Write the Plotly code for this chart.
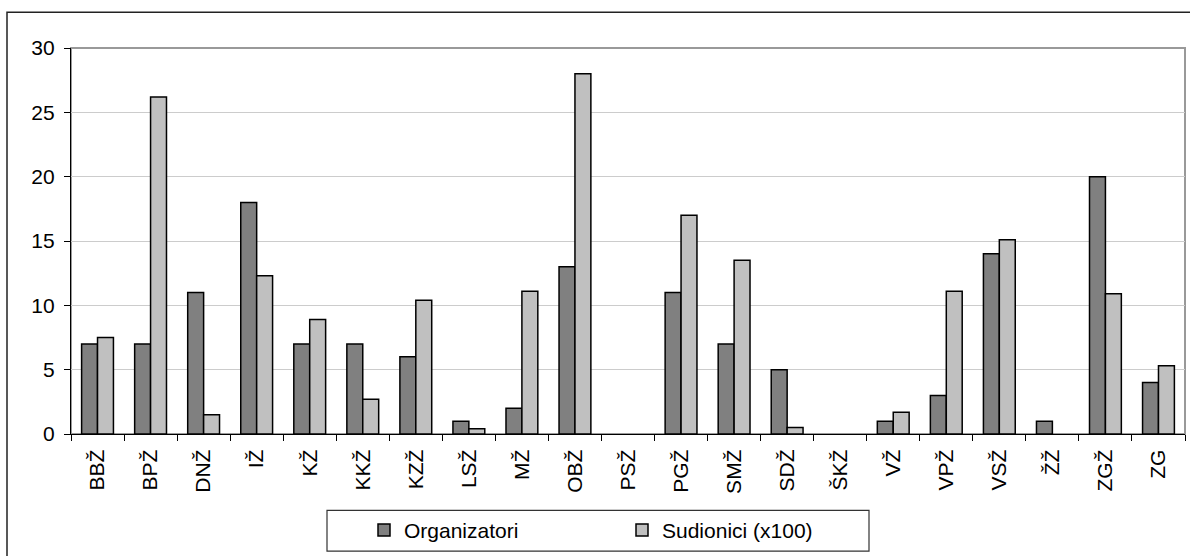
import plotly.graph_objects as go

categories = ["BBŽ", "BPŽ", "DNŽ", "IŽ", "KŽ", "KKŽ", "KZŽ", "LSŽ", "MŽ", "OBŽ", "PSŽ",
              "PGŽ", "SMŽ", "SDŽ", "ŠKŽ", "VŽ", "VPŽ", "VSŽ", "ŽŽ", "ZGŽ", "ZG"]
organizatori = [7, 7, 11, 18, 7, 7, 6, 1, 2, 13, 0, 11, 7, 5, 0, 1, 3, 14, 1, 20, 4]
sudionici = [7.5, 26.2, 1.5, 12.3, 8.9, 2.7, 10.4, 0.4, 11.1, 28, 0, 17, 13.5, 0.5, 0, 1.7,
             11.1, 15.1, 0, 10.9, 5.3]
y_ticks = [0, 5, 10, 15, 20, 25, 30]

W, H = 1190, 556
L, R, T, B = 71, 5, 48, 119
pw, ph = W - L - R, H - T - B


def px_x(p):
    return (p - L) / pw


def px_y(p):
    return (H - B - p) / ph


def no_zero(vals):
    # zero-height bars are not drawn in the reference
    return [v if v else None for v in vals]


FONT = "Liberation Sans, Arial, sans-serif"
FS = 21

fig = go.Figure()
fig.add_trace(go.Bar(x=categories, y=no_zero(organizatori), name="Organizatori",
                     marker=dict(color="#808080", line=dict(color="#000000", width=1.5))))
fig.add_trace(go.Bar(x=categories, y=no_zero(sudionici), name="Sudionici (x100)",
                     marker=dict(color="#C0C0C0", line=dict(color="#000000", width=1.5))))

fig.update_layout(
    width=W, height=H,
    margin=dict(l=L, r=R, t=T, b=B, pad=0),
    paper_bgcolor="white", plot_bgcolor="white",
    barmode="group", bargap=0.4, bargroupgap=0,
    font=dict(family=FONT, size=FS, color="#000000"),
    showlegend=True,
    legend=dict(orientation="h", x=px_x(364), xanchor="left", y=px_y(534), yanchor="middle",
                bgcolor="rgba(0,0,0,0)", borderwidth=0, entrywidth=213, entrywidthmode="pixels",
                font=dict(family=FONT, size=FS), itemclick=False),
    xaxis=dict(type="category", showline=True, linecolor="#000000", linewidth=1.3,
               ticks="outside", tickson="boundaries", ticklen=6, tickcolor="#000000",
               tickangle=-90, showgrid=False, tickfont=dict(family=FONT, size=FS),
               ticklabelstandoff=6),
    yaxis=dict(range=[0, 30], tickvals=y_ticks, showline=True, linecolor="#000000",
               linewidth=1.3, ticks="outside", ticklen=6, tickcolor="#000000",
               showgrid=True, gridcolor="#CCCCCC", gridwidth=1, zeroline=False,
               tickfont=dict(family=FONT, size=FS), ticklabelstandoff=5),
    shapes=[
        # plot area border (gray top/right)
        dict(type="rect", xref="paper", yref="paper", x0=0, x1=1, y0=0, y1=1,
             line=dict(color="#999999", width=2), layer="below"),
        # outer chart frame
        dict(type="rect", xref="paper", yref="paper", x0=px_x(7), x1=px_x(1200),
             y0=px_y(570), y1=px_y(12), line=dict(color="#222222", width=1.5)),
        # legend box
        dict(type="rect", xref="paper", yref="paper", x0=px_x(327), x1=px_x(869),
             y0=px_y(555), y1=px_y(514), line=dict(color="#333333", width=1.2)),
    ],
)

fig.write_html("out.html", config={"displayModeBar": False},
               post_script="document.body.style.margin='0';")
